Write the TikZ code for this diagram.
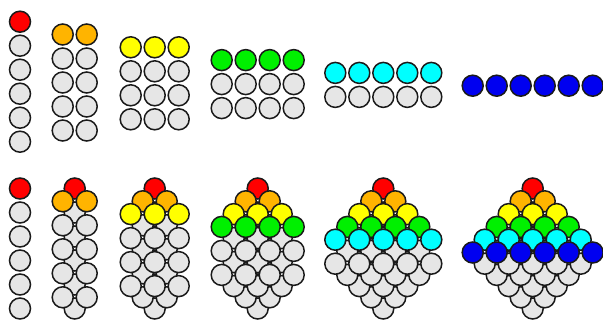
\documentclass[tikz,border=0pt]{standalone}
\definecolor{c1}{HTML}{FF0000}
\definecolor{c2}{HTML}{FFB400}
\definecolor{c3}{HTML}{FFFF00}
\definecolor{c4}{HTML}{00F000}
\definecolor{c5}{HTML}{00FFFF}
\definecolor{c6}{HTML}{0000F0}
\definecolor{ballgray}{HTML}{E6E6E6}
\definecolor{ballline}{HTML}{1A1A1A}
\tikzset{ball/.style={draw=ballline, line width=1.5pt}}
% #1 = centre x, #2 = y of top row, #3 = number of columns
\newcommand\ballayer[3]{%
  \pgfmathtruncatemacro\nr{7-#3}%
  \foreach \ii in {1,...,#3} {%
    \foreach \rr in {1,...,\nr} {%
      \pgfmathsetmacro\xx{#1+(\ii-(#3+1)/2)*24}%
      \pgfmathsetmacro\yy{#2+(\rr-1)*24}%
      \ifnum\rr=1 \edef\fc{c#3}\else\edef\fc{ballgray}\fi
      \filldraw[ball, fill=\fc] (\xx,\yy) circle[radius=10.5];
    }%
  }%
}
\begin{document}
\begin{tikzpicture}[x=1pt,y=-1pt]
\useasboundingbox (0,0) rectangle (603,321);
\def\dd{12.8}
% top row: single layers
\foreach \k/\cx in {1/20,2/74.7,3/154.7,4/257.7,5/383.3,6/532.7} {
  \ballayer{\cx}{21.7+(\k-1)*\dd}{\k}
}
% bottom row: stacked layers
\foreach \k/\cx in {1/20,2/74.7,3/154.7,4/257.7,5/383.3,6/532.7} {
  \foreach \j in {1,...,\k} {
    \ballayer{\cx}{188.5+(\j-1)*\dd}{\j}
  }
}
\end{tikzpicture}
\end{document}
